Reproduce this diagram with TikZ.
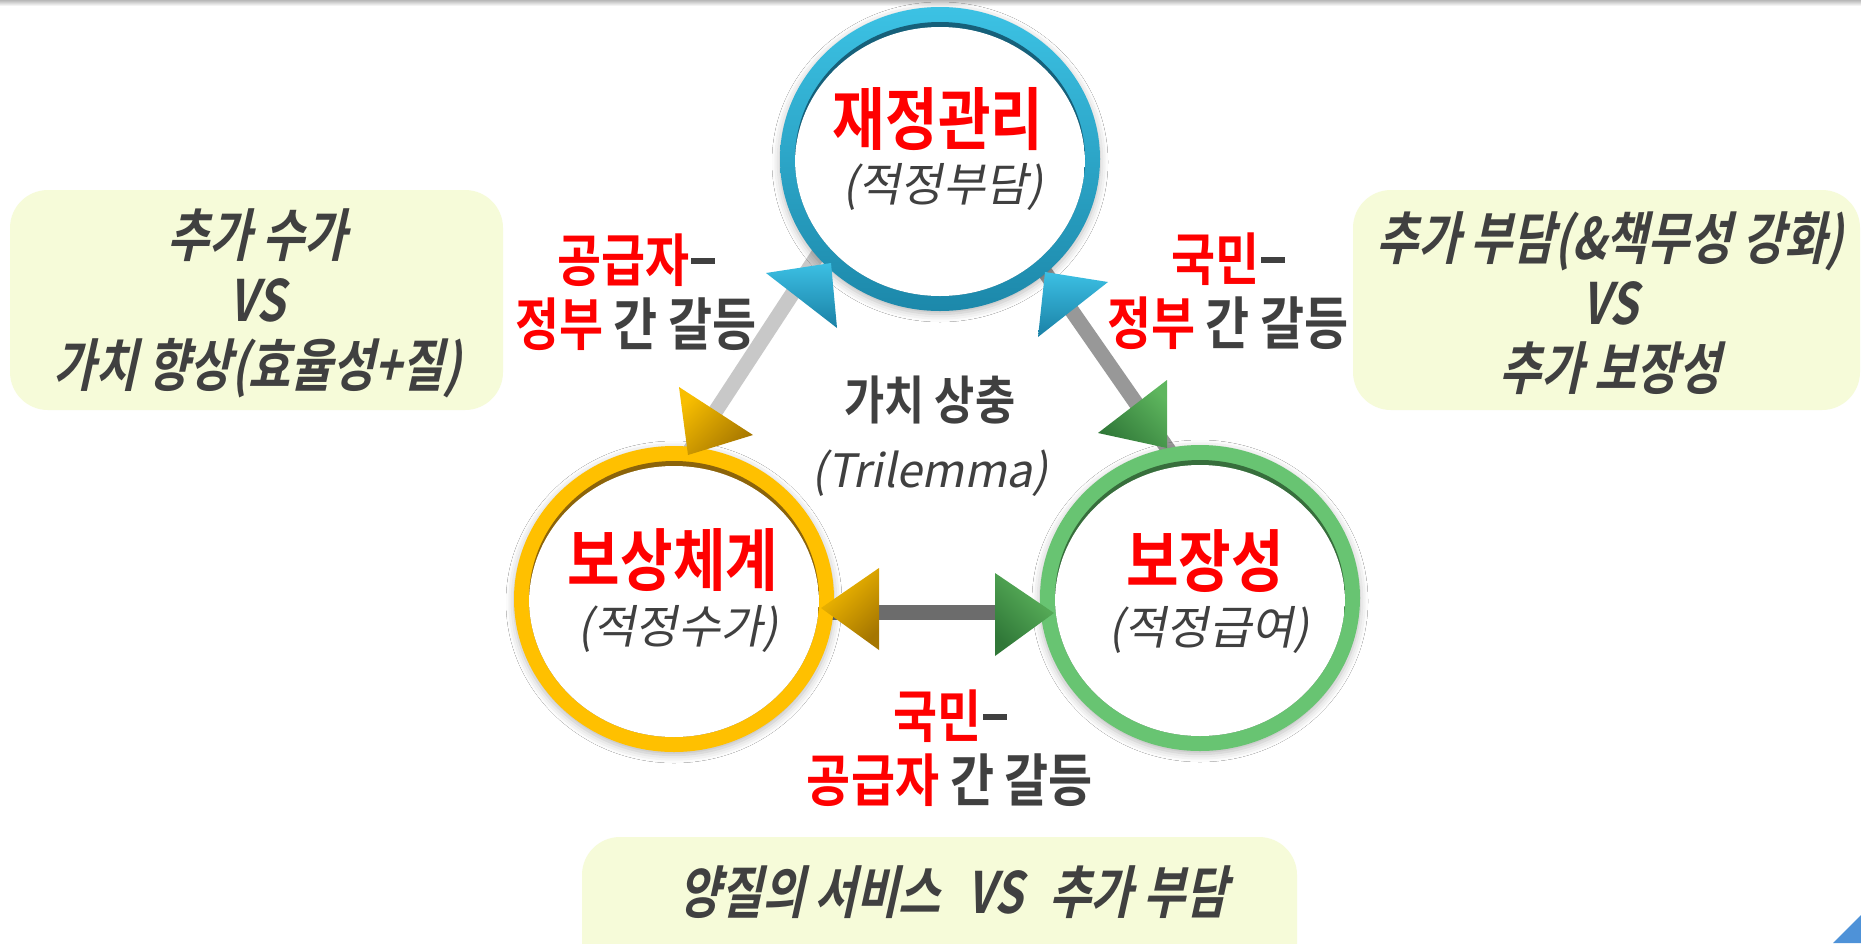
\documentclass[tikz,border=0pt]{standalone}
\usepackage{fontspec}
\usetikzlibrary{shapes.geometric,shadows.blur}
\newfontfamily\ttlfont{Noto Sans CJK KR}[UprightFont=* Bold, FakeStretch=0.84]
\newfontfamily\lblfont{Noto Sans CJK KR}[UprightFont=* Bold, FakeStretch=0.84]
\newfontfamily\bxfont{Noto Sans CJK KR}[UprightFont=* Bold, FakeStretch=0.8, FakeSlant=0.22]
\newfontfamily\subfont{Noto Sans CJK KR}[FakeSlant=0.2]
\definecolor{kred}{RGB}{255,0,0}
\definecolor{dgray}{RGB}{64,64,64}
\definecolor{boxfill}{RGB}{246,251,217}
\definecolor{blueL}{RGB}{60,194,228}
\definecolor{blueD}{RGB}{28,136,170}
\definecolor{blueE}{RGB}{22,96,122}
\definecolor{yelR}{RGB}{255,192,0}
\definecolor{yelE}{RGB}{140,100,10}
\definecolor{grnR}{RGB}{104,196,114}
\definecolor{grnE}{RGB}{55,110,60}
\definecolor{arrYL}{RGB}{248,190,0}
\definecolor{arrYD}{RGB}{165,118,0}
\definecolor{arrGL}{RGB}{94,182,94}
\definecolor{arrGD}{RGB}{48,120,56}
\definecolor{arrBL}{RGB}{60,192,228}
\definecolor{arrBD}{RGB}{26,128,165}
\definecolor{lnA}{RGB}{200,200,200}
\definecolor{lnB}{RGB}{152,152,152}
\definecolor{lnC}{RGB}{108,108,108}
\definecolor{cornerblue}{RGB}{78,146,216}
\newcommand\kdash{\kern1pt\rule[17pt]{24pt}{6pt}}
\tikzset{
  circ/.style={ellipse, minimum width=320pt, minimum height=304pt, inner sep=0pt},
  ringshadow/.style={blur shadow={shadow blur radius=8pt, shadow xshift=0pt, shadow yshift=-3pt, shadow opacity=28}},
  conn/.style={line width=15pt, line cap=butt},
  titletext/.style={font=\ttlfont\fontsize{68}{76}\selectfont, text=kred, inner sep=0pt},
  subtext/.style={font=\subfont\fontsize{46}{52}\selectfont, text=dgray, inner sep=0pt},
  lbltext/.style={font=\lblfont\fontsize{57}{64}\selectfont, text=dgray, inner sep=0pt, align=center},
  boxshape/.style={fill=boxfill, rounded corners=38pt, inner sep=0pt, draw=none},
  boxtext/.style={font=\bxfont\fontsize{57}{65}\selectfont, text=dgray, inner sep=0pt, align=center},
}
\begin{document}
\begin{tikzpicture}[x=1pt, y=-1pt]
\useasboundingbox (0,0) rectangle (1861,943);
\clip (0,0) rectangle (1861,943);
\fill[white] (0,0) rectangle (1861,943);
\shade[top color=black!28, bottom color=white] (0,0) rectangle (1861,6);

% boxes
\node[boxshape, minimum width=493pt, minimum height=220pt] (boxL) at (256.5,300) {};
\node[boxshape, minimum width=507pt, minimum height=220pt] (boxR) at (1606.5,300) {};
\node[boxshape, minimum width=715pt, minimum height=180pt] (boxB) at (939.5,927) {};

% circle anchors
\node[circ] (fin) at (940,159) {};
\node[circ] (comp) at (674,599) {};
\node[circ] (cov) at (1200,598) {};

% connector end points
\coordinate (a1) at (821,250);
\coordinate (a2) at (687,455);
\coordinate (b1) at (1040,265);
\coordinate (b2) at (1170,452);
\coordinate (c1) at (821,612);
\coordinate (c2) at (1054,612);
\draw[conn, lnA] (a1) -- (a2);
\draw[conn, lnB] (b1) -- (b2);
\draw[conn, lnC] (c1) -- (c2);

% rings
\shade[top color=blueL, bottom color=blueD, ringshadow] (fin.center) ellipse [x radius=160, y radius=152];
\begin{scope}
\clip (fin.center) ellipse [x radius=145, y radius=137];
\fill[blueE] (fin.center) ellipse [x radius=146, y radius=138];
\fill[white] ([yshift=-4pt]fin.center) ellipse [x radius=145, y radius=136];
\end{scope}

\fill[yelR, ringshadow] (comp.center) ellipse [x radius=160, y radius=153];
\begin{scope}
\clip (comp.center) ellipse [x radius=145, y radius=138];
\fill[yelE] (comp.center) ellipse [x radius=146, y radius=139];
\fill[white] ([yshift=-4pt]comp.center) ellipse [x radius=145, y radius=137];
\end{scope}

\fill[grnR, ringshadow] (cov.center) ellipse [x radius=160, y radius=153];
\begin{scope}
\clip (cov.center) ellipse [x radius=145, y radius=138];
\fill[grnE] (cov.center) ellipse [x radius=146, y radius=139];
\fill[white] ([yshift=-4pt]cov.center) ellipse [x radius=145, y radius=137];
\end{scope}

% arrow heads
\shade[top color=arrBL, bottom color=arrBD] (766,273) -- (831,263) -- (837,328) -- cycle;
\shade[top color=arrYL, bottom color=arrYD, shading angle=45] (679,387) -- (753,435) -- (688,455) -- cycle;
\shade[top color=arrBL, bottom color=arrBD] (1045,272) -- (1108,282) -- (1038,337) -- cycle;
\shade[top color=arrGL, bottom color=arrGD, shading angle=-45] (1167,380) -- (1098,433) -- (1167,448) -- cycle;
\shade[top color=arrYL, bottom color=arrYD, shading angle=45] (821,608) -- (879,568) -- (879,650) -- cycle;
\shade[top color=arrGL, bottom color=arrGD, shading angle=-45] (995,573) -- (1054,613) -- (995,656) -- cycle;

% circle texts
\node[titletext] (finT) at (938,119) {재정관리};
\node[subtext] (finS) at (943,187) {(적정부담)};
\node[titletext] (compT) at (673,560) {보상체계};
\node[subtext] (compS) at (678,629) {(적정수가)};
\node[titletext] (covT) at (1205,561) {보장성};
\node[subtext] (covS) at (1209,630) {(적정급여)};

% centre
\node[lbltext, font=\lblfont\fontsize{52}{60}\selectfont] (tri) at (930,400) {가치 상충};
\node[subtext] (triS) at (930,473) {(Trilemma)};

% conflict labels
\node[lbltext] (labL) at (636,292) {\textcolor{kred}{공급자}\kdash\\\textcolor{kred}{정부} 간 갈등};
\node[lbltext] (labR) at (1228,291) {\textcolor{kred}{국민}\kdash\\\textcolor{kred}{정부} 간 갈등};
\node[lbltext] (labB) at (950,748) {\textcolor{kred}{국민}\kdash\\\textcolor{kred}{공급자} 간 갈등};

% box texts
\node[boxtext] (boxLT) at (257,303) {추가 수가\\VS\\가치 향상(효율성+질)};
\node[boxtext] (boxRT) at (1610,303) {추가 부담(\&책무성 강화)\\VS\\추가 보장성};
\node[boxtext] (boxBT) at (953,892) {양질의 서비스\hspace{26pt}VS\hspace{26pt}추가 부담};

% corner mark
\fill[cornerblue] (1833,943) -- (1861,915) -- (1861,943) -- cycle;
\end{tikzpicture}
\end{document}
